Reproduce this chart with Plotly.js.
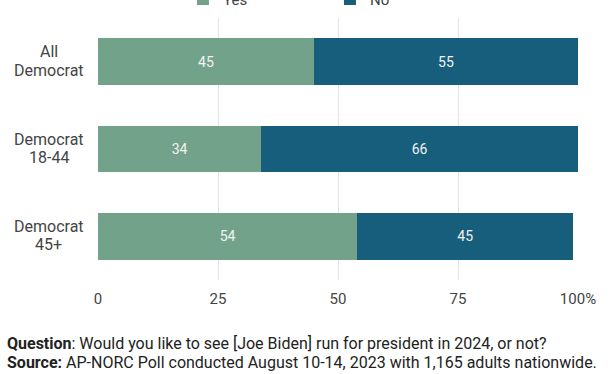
<!DOCTYPE html>
<html><head><meta charset="utf-8">
<script src="https://cdn.plot.ly/plotly-3.0.1.min.js"></script>
<style>html,body{margin:0;padding:0;background:#fff}#chart{width:612px;height:374px}</style>
</head><body><div id="chart"></div>
<script>
const categories = ["All<br>Democrat", "Democrat<br>18-44", "Democrat<br>45+"];
const yesValues = [45, 34, 54];
const noValues = [55, 66, 45];
const xTickVals = [0, 25, 50, 75, 100];
const xTickText = ["0", "25", "50", "75", "100%"];
const footerLines = [
  "<b>Question</b>: Would you like to see [Joe Biden] run for president in 2024, or not?",
  "<b>Source:</b> AP-NORC Poll conducted August 10-14, 2023 with 1,165 adults nationwide."
];

const common = {
  type: 'bar', orientation: 'h', y: categories, width: 0.535,
  texttemplate: '%{x}', textposition: 'inside', insidetextanchor: 'middle',
  textangle: 0, textfont: {family: 'Roboto', size: 14, color: '#f2f2f2'},
  hoverinfo: 'none'
};
const data = [
  Object.assign({}, common, {name: 'Yes', x: yesValues, marker: {color: '#72a38a'}}),
  Object.assign({}, common, {name: 'No', x: noValues, marker: {color: '#175e7c'}})
];

const annotations = [];
categories.forEach(c => {
  const lines = c.split('<br>');
  lines.forEach((ln, i) => {
    annotations.push({
      xref: 'paper', yref: 'y', x: -0.103, y: c, xanchor: 'center', yanchor: 'middle',
      yshift: ((lines.length - 1) / 2 - i) * 18.3 + 0.6,
      text: ln, showarrow: false, align: 'center',
      font: {family: 'Roboto', size: 16, color: '#444'}
    });
  });
});
footerLines.forEach((t, i) => {
  annotations.push({
    xref: 'paper', yref: 'paper', x: -0.194, y: i === 0 ? -0.2405 : -0.313,
    xanchor: 'left', yanchor: 'middle',
    text: t, showarrow: false, align: 'left',
    font: {family: 'Roboto', size: 16, color: '#222'}
  });
});

const layout = {
  width: 612, height: 374,
  margin: {l: 98, r: 34, t: 18, b: 94, autoexpand: false},
  paper_bgcolor: '#fff', plot_bgcolor: '#fff',
  barmode: 'stack',
  font: {family: 'Roboto', color: '#444'},
  xaxis: {
    range: [0, 100], tickvals: xTickVals, ticktext: xTickText,
    showgrid: true, gridcolor: '#e3e3e3', gridwidth: 1, zeroline: false,
    showline: false, ticks: '', ticklabelstandoff: 8,
    tickfont: {family: 'Roboto', size: 15, color: '#444'},
    fixedrange: true
  },
  yaxis: {
    type: 'category', autorange: 'reversed', showticklabels: false,
    showgrid: false, zeroline: false, showline: false, ticks: '', fixedrange: true
  },
  showlegend: true,
  legend: {
    orientation: 'h', x: 0.177, xanchor: 'left', y: 1.072, yanchor: 'middle',
    entrywidth: 102, entrywidthmode: 'pixels', traceorder: 'normal',
    font: {family: 'Roboto', size: 15, color: '#444'}
  },
  annotations: annotations
};
Plotly.newPlot('chart', data, layout, {displayModeBar: false, staticPlot: true});
</script></body></html>
